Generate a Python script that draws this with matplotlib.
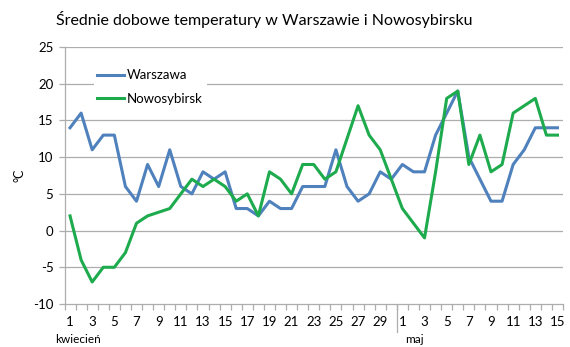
import matplotlib
matplotlib.use("Agg")
import matplotlib.pyplot as plt
from matplotlib.ticker import FixedLocator

plt.rcParams['font.family'] = ['Lato', 'DejaVu Sans']
plt.rcParams['axes.unicode_minus'] = False

days_april = list(range(1, 31))
days_may = list(range(1, 16))
day_labels = [str(d) for d in days_april + days_may]

warszawa = [14, 16, 11, 13, 13, 6, 4, 9, 6, 11, 6, 5, 8, 7, 8, 3, 3, 2, 4, 3,
            3, 6, 6, 6, 11, 6, 4, 5, 8, 7,
            9, 8, 8, 13, 16, 19, 10, 7, 4, 4, 9, 11, 14, 14, 14]
nowosybirsk = [2, -4, -7, -5, -5, -3, 1, 2, 2.5, 3, 5, 7, 6, 7, 6, 4, 5, 2, 8, 7,
               5, 9, 9, 7, 8, 12.5, 17, 13, 11, 7,
               3, 1, -1, 8, 18, 19, 9, 13, 8, 9, 16, 17, 18, 13, 13]
months = ["kwiecień", "maj"]
title = "Średnie dobowe temperatury w Warszawie i Nowosybirsku"

W, H = 570, 347
fig = plt.figure(figsize=(W / 100, H / 100), dpi=100)
ax = fig.add_axes([64.5 / W, 1 - 304 / H, (563 - 64.5) / W, (304 - 47) / H])

n = len(day_labels)
x = list(range(n))
grid_c = '#ADADAD'
for v in range(-5, 30, 5):
    ax.axhline(v, color=grid_c, lw=0.9, zorder=0)

ax.plot(x, warszawa, color='#4F81BD', lw=2.2, label='Warszawa', zorder=3,
        solid_joinstyle='round')
ax.plot(x, nowosybirsk, color='#1DAB4E', lw=2.2, label='Nowosybirsk', zorder=3,
        solid_joinstyle='round')

ax.set_xlim(-0.5, n - 0.5)
ax.set_ylim(-10, 25)
ax.set_yticks(range(-10, 30, 5))
major = list(range(0, 30, 2)) + [30 + i for i in range(0, 15, 2)]
ax.set_xticks(major)
ax.set_xticklabels([day_labels[i] for i in major])
ax.xaxis.set_minor_locator(FixedLocator([i - 0.5 for i in range(n + 1)]))
ax.tick_params(axis='x', which='major', length=0, pad=9, labelsize=9.5, colors='black')
ax.tick_params(axis='x', which='minor', length=4, color=grid_c, width=0.9)
ax.tick_params(axis='y', length=4, color=grid_c, width=0.9, labelsize=9.5, pad=4)

for s in ['top', 'right']:
    ax.spines[s].set_visible(False)
for s in ['left', 'bottom']:
    ax.spines[s].set_color(grid_c)
    ax.spines[s].set_linewidth(0.9)

# month separator and labels
ax.plot([29.5, 29.5], [0, -0.11], transform=ax.get_xaxis_transform(),
        color=grid_c, lw=0.9, clip_on=False)
ax.text(-1.35, -0.14, months[0], transform=ax.get_xaxis_transform(),
        ha='left', va='center', fontsize=8.5)
ax.text(30.25, -0.14, months[1], transform=ax.get_xaxis_transform(),
        ha='left', va='center', fontsize=8.5)

fig.text(20 / W, 1 - 175 / H, "°C", rotation=90, ha='center', va='center', fontsize=9)
fig.text(264 / W, 1 - 20 / H, title, ha='center', va='center', fontsize=11.5)

leg = ax.legend(loc='upper left', bbox_to_anchor=(0.045, 0.955), frameon=True,
                fontsize=9.5, handlelength=2.0, handletextpad=0.25,
                labelspacing=0.9, borderpad=0.3)
leg.get_frame().set_edgecolor('none')
leg.get_frame().set_facecolor('white')
leg.get_frame().set_alpha(1)

fig.savefig("out.png", dpi=100)
